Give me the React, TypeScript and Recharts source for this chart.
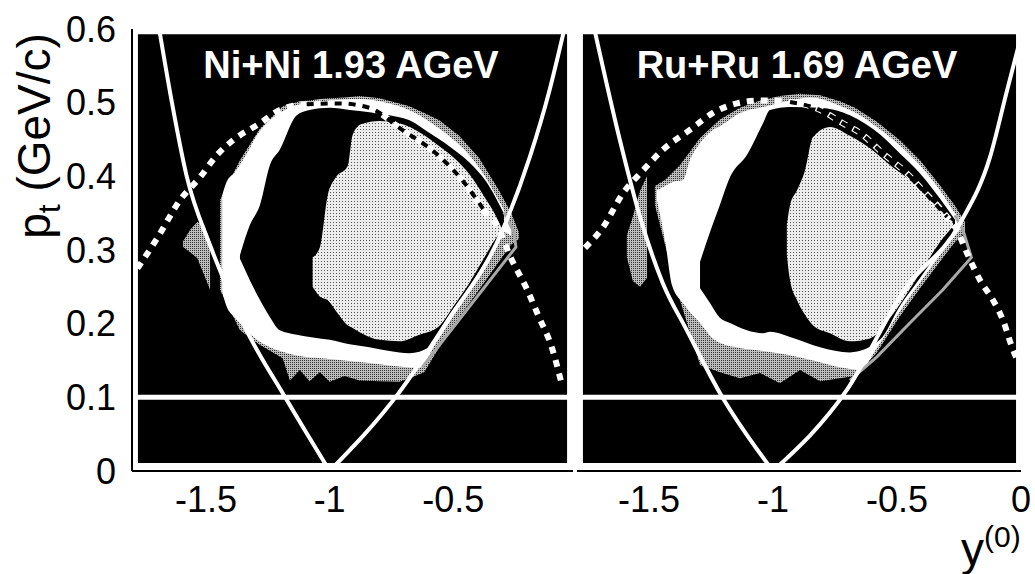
import React from 'react';
import {
  ComposedChart,
  Area,
  Line,
  XAxis,
  YAxis,
  ReferenceArea,
  ReferenceLine,
} from 'recharts';

type Band = [number, number, number]; // [y(0), pt low, pt high]
type Pt = [number, number]; // [y(0), pt]

const FONT = '"Liberation Sans", Arial, Helvetica, sans-serif';

const panelTitles = ['Ni+Ni 1.93 AGeV', 'Ru+Ru 1.69 AGeV'];
const xTicksLeft = [-1.5, -1, -0.5];
const xTicksRight = [-1.5, -1, -0.5, 0];
const yTicks = [0, 0.1, 0.2, 0.3, 0.4, 0.5, 0.6];
const ptCut = 0.1;

// ---- Ni+Ni 1.93 AGeV ----
const niParabolaLeft: Pt[] = [
  [-1.69, 0.6], [-1.64, 0.503], [-1.58, 0.402], [-1.48, 0.303], [-1.35, 0.2], [-1.18, 0.1], [-1.0, 0],
];
const niParabolaRight: Pt[] = [
  [-1.0, 0], [-0.72, 0.106], [-0.53, 0.2], [-0.3, 0.327], [-0.19, 0.426], [-0.11, 0.517], [-0.05, 0.6],
];
const niDash: Pt[] = [
  [-1.778, 0.275], [-1.698, 0.316], [-1.605, 0.368], [-1.524, 0.399], [-1.456, 0.429], [-1.391, 0.449],
  [-1.282, 0.472], [-1.202, 0.49], [-1.093, 0.498], [-0.96, 0.499], [-0.839, 0.493], [-0.706, 0.463],
  [-0.569, 0.431], [-0.464, 0.395], [-0.367, 0.35], [-0.327, 0.336], [-0.262, 0.286], [-0.206, 0.25],
  [-0.153, 0.209], [-0.101, 0.168], [-0.06, 0.117],
];
const niGrayPatch: Band[] = [
  [-1.593, 0.304, 0.312], [-1.565, 0.297, 0.327], [-1.536, 0.289, 0.338], [-1.508, 0.266, 0.334], [-1.484, 0.246, 0.313],
];
const niGray: Band[] = [
  [-1.444, 0.246, 0.368], [-1.363, 0.191, 0.422], [-1.282, 0.171, 0.465], [-1.19, 0.153, 0.495],
  [-1.161, 0.123, 0.498], [-1.121, 0.137, 0.502], [-1.081, 0.122, 0.503], [-1.04, 0.134, 0.505],
  [-1.0, 0.121, 0.506], [-0.94, 0.129, 0.507], [-0.879, 0.123, 0.509], [-0.798, 0.122, 0.506],
  [-0.718, 0.121, 0.499], [-0.677, 0.126, 0.495], [-0.617, 0.134, 0.486], [-0.556, 0.168, 0.476],
  [-0.476, 0.208, 0.455], [-0.395, 0.246, 0.425], [-0.315, 0.284, 0.381], [-0.266, 0.307, 0.351],
  [-0.234, 0.315, 0.324],
];
const niWhite: Band[] = [
  [-1.435, 0.243, 0.374], [-1.419, 0.225, 0.391], [-1.383, 0.208, 0.406], [-1.335, 0.191, 0.431],
  [-1.294, 0.178, 0.456], [-1.242, 0.168, 0.476], [-1.181, 0.161, 0.49], [-1.121, 0.156, 0.498],
  [-1.0, 0.152, 0.503], [-0.879, 0.148, 0.505], [-0.798, 0.145, 0.502], [-0.718, 0.142, 0.495],
  [-0.637, 0.14, 0.483], [-0.569, 0.174, 0.468], [-0.496, 0.212, 0.449], [-0.435, 0.246, 0.429],
  [-0.375, 0.28, 0.402], [-0.327, 0.309, 0.374], [-0.294, 0.324, 0.354], [-0.266, 0.319, 0.33],
];
const niBlack: Band[] = [
  [-1.363, 0.288, 0.293], [-1.323, 0.259, 0.334], [-1.282, 0.232, 0.361], [-1.242, 0.209, 0.415],
  [-1.202, 0.191, 0.436], [-1.133, 0.185, 0.483], [-1.081, 0.182, 0.49], [-1.0, 0.178, 0.493],
  [-0.919, 0.172, 0.49], [-0.839, 0.168, 0.487], [-0.758, 0.163, 0.483], [-0.677, 0.16, 0.476],
  [-0.597, 0.168, 0.459], [-0.516, 0.212, 0.441], [-0.435, 0.25, 0.419], [-0.355, 0.293, 0.387],
  [-0.294, 0.327, 0.349],
];
const niLight: Band[] = [
  [-1.069, 0.25, 0.29], [-1.04, 0.237, 0.303], [-1.008, 0.232, 0.374], [-0.976, 0.218, 0.398],
  [-0.927, 0.198, 0.414], [-0.907, 0.194, 0.456], [-0.871, 0.187, 0.471], [-0.798, 0.178, 0.475],
  [-0.718, 0.176, 0.472], [-0.637, 0.185, 0.46], [-0.556, 0.197, 0.441], [-0.496, 0.225, 0.425],
  [-0.435, 0.255, 0.403], [-0.375, 0.289, 0.373], [-0.327, 0.316, 0.346], [-0.302, 0.326, 0.328],
];
const niOuterEdge: Pt[] = [
  [-0.625, 0.141], [-0.435, 0.223], [-0.246, 0.304], [-0.254, 0.324], [-0.294, 0.351],
];

// ---- Ru+Ru 1.69 AGeV ----
const ruParabolaLeft: Pt[] = [
  [-1.72, 0.6], [-1.617, 0.449], [-1.536, 0.345], [-1.444, 0.255], [-1.347, 0.191], [-1.214, 0.106], [-1.0, 0],
];
const ruParabolaRight: Pt[] = [
  [-1.0, 0], [-0.702, 0.11], [-0.47, 0.246], [-0.246, 0.336], [-0.125, 0.426], [-0.056, 0.517], [0.0, 0.59],
];
const ruDash: Pt[] = [
  [-1.758, 0.303], [-1.685, 0.331], [-1.605, 0.377], [-1.524, 0.408], [-1.444, 0.436], [-1.335, 0.463],
  [-1.242, 0.486], [-1.145, 0.499], [-1.052, 0.503], [-0.931, 0.501], [-0.81, 0.49], [-0.718, 0.472],
  [-0.649, 0.459], [-0.556, 0.431], [-0.46, 0.404], [-0.407, 0.385], [-0.298, 0.345], [-0.258, 0.327],
  [-0.218, 0.296], [-0.165, 0.259], [-0.113, 0.232], [-0.073, 0.205], [-0.036, 0.168], [-0.012, 0.148],
];
const ruGrayPatch: Band[] = [
  [-1.589, 0.29, 0.32], [-1.565, 0.258, 0.345], [-1.536, 0.25, 0.38], [-1.508, 0.262, 0.4],
];
const ruGray: Band[] = [
  [-1.476, 0.361, 0.387], [-1.435, 0.307, 0.395], [-1.375, 0.232, 0.415], [-1.294, 0.144, 0.452],
  [-1.214, 0.134, 0.477], [-1.133, 0.126, 0.493], [-1.052, 0.133, 0.503], [-0.972, 0.119, 0.509],
  [-0.891, 0.137, 0.512], [-0.81, 0.122, 0.51], [-0.73, 0.126, 0.502], [-0.669, 0.129, 0.493],
  [-0.581, 0.161, 0.474], [-0.488, 0.21, 0.449], [-0.407, 0.248, 0.422], [-0.327, 0.284, 0.388],
  [-0.266, 0.311, 0.36], [-0.226, 0.324, 0.338],
];
const ruWhite: Band[] = [
  [-1.468, 0.368, 0.381], [-1.435, 0.313, 0.387], [-1.407, 0.252, 0.392], [-1.363, 0.228, 0.395],
  [-1.335, 0.216, 0.422], [-1.294, 0.201, 0.445], [-1.242, 0.18, 0.463], [-1.214, 0.174, 0.468],
  [-1.133, 0.167, 0.486], [-1.04, 0.163, 0.494], [-0.931, 0.157, 0.503], [-0.851, 0.151, 0.507],
  [-0.718, 0.14, 0.494], [-0.649, 0.137, 0.483], [-0.581, 0.167, 0.467], [-0.488, 0.217, 0.442],
  [-0.407, 0.256, 0.415], [-0.327, 0.293, 0.381], [-0.266, 0.32, 0.35], [-0.238, 0.33, 0.338],
];
const ruBlack: Band[] = [
  [-1.294, 0.248, 0.284], [-1.254, 0.228, 0.324], [-1.214, 0.208, 0.361], [-1.173, 0.201, 0.399],
  [-1.105, 0.191, 0.429], [-1.04, 0.187, 0.472], [-1.012, 0.189, 0.49], [-0.931, 0.182, 0.494],
  [-0.81, 0.168, 0.493], [-0.69, 0.161, 0.483], [-0.569, 0.178, 0.457], [-0.488, 0.224, 0.431],
  [-0.407, 0.262, 0.404], [-0.327, 0.3, 0.37], [-0.266, 0.327, 0.341],
];
const ruLight: Band[] = [
  [-0.944, 0.293, 0.334], [-0.931, 0.259, 0.361], [-0.903, 0.232, 0.381], [-0.871, 0.212, 0.408],
  [-0.839, 0.198, 0.453], [-0.77, 0.187, 0.467], [-0.69, 0.176, 0.455], [-0.609, 0.18, 0.438],
  [-0.516, 0.213, 0.412], [-0.448, 0.247, 0.395], [-0.379, 0.284, 0.372], [-0.315, 0.316, 0.351],
  [-0.274, 0.332, 0.338],
];
const ruOuterEdge: Pt[] = [
  [-0.69, 0.123], [-0.581, 0.155], [-0.448, 0.201], [-0.315, 0.246], [-0.2, 0.29], [-0.234, 0.327], [-0.266, 0.347],
];

const band = (rows: Band[]) => rows.map(([x, lo, hi]) => ({ x, v: [lo, hi] }));
const pts = (rows: Pt[]) => rows.map(([x, y]) => ({ x, y }));

interface PanelProps {
  left: number;
  width: number;
  domain: [number, number];
  xTicks: number[];
  margin: { top: number; right: number; bottom: number; left: number };
  showYLabels: boolean;
  gray: Band[];
  grayPatch: Band[];
  white: Band[];
  black: Band[];
  light: Band[];
  outerEdge: Pt[];
  parabolaLeft: Pt[];
  parabolaRight: Pt[];
  dash: Pt[];
  blackDashRange: [number, number];
  inset: [number, number];
}

const tickStyle = { fontSize: 36, fill: '#000', fontFamily: FONT };
const frameLine = { stroke: '#000', strokeWidth: 2 };
const innerTick = { stroke: '#000', strokeWidth: 1.5 };

const Panel: React.FC<PanelProps> = (p) => {
  const dashBlack = p.dash.filter(([x]) => x >= p.blackDashRange[0] && x <= p.blackDashRange[1]);
  return (
    <div style={{ position: 'absolute', left: p.left, top: 0 }}>
      <ComposedChart width={p.width} height={574} margin={p.margin}>
        <XAxis
          type="number"
          dataKey="x"
          domain={p.domain}
          ticks={p.xTicks}
          interval={0}
          allowDataOverflow
          height={50}
          tickLine={false}
          tickSize={0}
          tickMargin={15}
          axisLine={frameLine}
          tick={tickStyle}
        />
        <XAxis xAxisId="top" orientation="top" mirror type="number" domain={p.domain} ticks={p.xTicks}
          interval={0} allowDataOverflow height={0} tick={false} tickSize={6} tickLine={innerTick} axisLine={frameLine} />
        <XAxis xAxisId="bm" orientation="bottom" mirror type="number" domain={p.domain} ticks={p.xTicks}
          interval={0} allowDataOverflow height={0} tick={false} tickSize={6} tickLine={innerTick} axisLine={false} />
        {p.showYLabels ? (
          <YAxis
            type="number"
            domain={[0, 0.6]}
            ticks={yTicks}
            interval={0}
            allowDataOverflow
            width={100}
            tickLine={false}
            tickSize={0}
            tickMargin={16}
            axisLine={frameLine}
            tick={tickStyle}
          />
        ) : (
          <YAxis type="number" domain={[0, 0.6]} ticks={yTicks} interval={0} allowDataOverflow mirror width={0}
            tick={false} tickSize={6} tickLine={innerTick} axisLine={frameLine} />
        )}
        {p.showYLabels && (
          <YAxis yAxisId="lm" mirror type="number" domain={[0, 0.6]} ticks={yTicks} interval={0} allowDataOverflow
            width={0} tick={false} tickSize={6} tickLine={innerTick} axisLine={false} />
        )}
        <YAxis yAxisId="rm" orientation="right" mirror type="number" domain={[0, 0.6]} ticks={yTicks} interval={0}
          allowDataOverflow width={0} tick={false} tickSize={6} tickLine={innerTick} axisLine={frameLine} />

        <ReferenceArea x1={p.inset[0]} x2={p.inset[1]} y1={0.011} y2={0.593} fill="#000" fillOpacity={1} stroke="none" />

        <Area data={band(p.grayPatch)} dataKey="v" type="linear" fill="url(#stippleDark)" fillOpacity={1} stroke="none" isAnimationActive={false} dot={false} activeDot={false} />
        <Area data={band(p.gray)} dataKey="v" type="linear" fill="url(#stippleDark)" fillOpacity={1} stroke="none" isAnimationActive={false} dot={false} activeDot={false} />
        <Area data={band(p.white)} dataKey="v" type="monotone" fill="#fff" fillOpacity={1} stroke="none" isAnimationActive={false} dot={false} activeDot={false} />
        <Area data={band(p.black)} dataKey="v" type="monotone" fill="#000" fillOpacity={1} stroke="none" isAnimationActive={false} dot={false} activeDot={false} />
        <Area data={band(p.light)} dataKey="v" type="monotone" fill="url(#stippleLight)" fillOpacity={1} stroke="none" isAnimationActive={false} dot={false} activeDot={false} />

        <Line data={pts(p.outerEdge)} dataKey="y" type="linear" stroke="#a8a8a8" strokeWidth={3} dot={false} activeDot={false} isAnimationActive={false} />
        <ReferenceLine y={ptCut} stroke="#fff" strokeWidth={5} />
        <Line data={pts(p.parabolaLeft)} dataKey="y" type="monotone" stroke="#fff" strokeWidth={4} dot={false} activeDot={false} isAnimationActive={false} />
        <Line data={pts(p.parabolaRight)} dataKey="y" type="monotone" stroke="#fff" strokeWidth={4} dot={false} activeDot={false} isAnimationActive={false} />
        <Line data={pts(p.dash)} dataKey="y" type="monotone" stroke="#fff" strokeWidth={6} strokeDasharray="7 7" dot={false} activeDot={false} isAnimationActive={false} />
        <Line data={pts(dashBlack)} dataKey="y" type="monotone" stroke="#000" strokeWidth={4} strokeDasharray="7 7" dot={false} activeDot={false} isAnimationActive={false} />
      </ComposedChart>
    </div>
  );
};

export default function App() {
  return (
    <div style={{ position: 'absolute', left: 0, top: 0, width: 1035, height: 574, background: '#fff', overflow: 'hidden' }}>
      <svg width={0} height={0} style={{ position: 'absolute' }}>
        <defs>
          <pattern id="stippleLight" width={3} height={3} patternUnits="userSpaceOnUse">
            <rect width={3} height={3} fill="#ececec" />
            <rect width={1} height={1} fill="#555" />
          </pattern>
          <pattern id="stippleDark" width={2} height={2} patternUnits="userSpaceOnUse">
            <rect width={2} height={2} fill="#bdbdbd" />
            <rect width={1} height={1} fill="#333" />
          </pattern>
        </defs>
      </svg>
      <Panel
        left={0}
        width={580}
        domain={[-1.8, -0.015]}
        xTicks={xTicksLeft}
        margin={{ top: 29, right: 7, bottom: 53, left: 32 }}
        showYLabels
        gray={niGray}
        grayPatch={niGrayPatch}
        white={niWhite}
        black={niBlack}
        light={niLight}
        outerEdge={niOuterEdge}
        parabolaLeft={niParabolaLeft}
        parabolaRight={niParabolaRight}
        dash={niDash}
        blackDashRange={[-1.2, -0.33]}
        inset={[-1.776, -0.039]}
      />
      <Panel
        left={577}
        width={458}
        domain={[-1.79, 0]}
        xTicks={xTicksRight}
        margin={{ top: 29, right: 14, bottom: 53, left: 0 }}
        showYLabels={false}
        gray={ruGray}
        grayPatch={ruGrayPatch}
        white={ruWhite}
        black={ruBlack}
        light={ruLight}
        outerEdge={ruOuterEdge}
        parabolaLeft={ruParabolaLeft}
        parabolaRight={ruParabolaRight}
        dash={ruDash}
        blackDashRange={[-0.95, -0.27]}
        inset={[-1.766, -0.02]}
      />
      <svg width={1035} height={574} style={{ position: 'absolute', left: 0, top: 0, pointerEvents: 'none' }}>
        <text x={351} y={78} textAnchor="middle" fontFamily={FONT} fontWeight="bold" fontSize={38} fill="#fff">
          {panelTitles[0]}
        </text>
        <text x={797} y={78} textAnchor="middle" fontFamily={FONT} fontWeight="bold" fontSize={38} fill="#fff">
          {panelTitles[1]}
        </text>
        <text transform="translate(50,136) rotate(-90)" textAnchor="middle" fontFamily={FONT} fontSize={46} fill="#000">
          p<tspan fontSize={32} dy={10}>t</tspan>
          <tspan dy={-10}> (GeV/c)</tspan>
        </text>
        <text x={961} y={565} fontFamily={FONT} fontSize={46} fill="#000">
          y<tspan fontSize={30} dy={-18}>(0)</tspan>
        </text>
      </svg>
    </div>
  );
}
